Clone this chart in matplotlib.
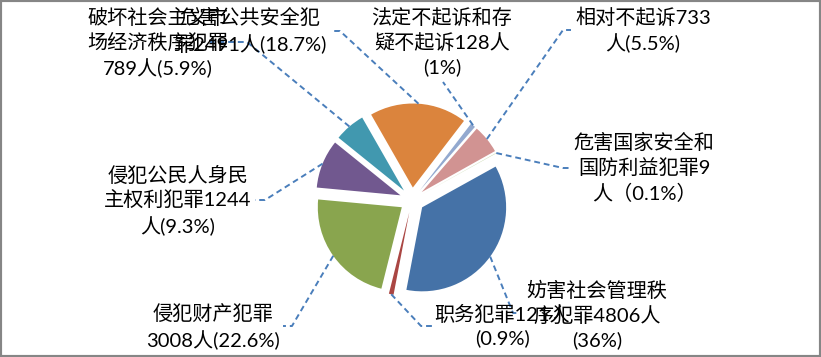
import matplotlib
matplotlib.use('Agg')
import matplotlib.pyplot as plt
import numpy as np
from matplotlib.patches import Rectangle

# case counts, clockwise starting from the right-hand slice
categories = ['妨害社会管理秩序犯罪', '职务犯罪', '侵犯财产犯罪', '侵犯公民人身民主权利犯罪',
              '破坏社会主义市场经济秩序犯罪', '危害公共安全犯罪', '法定不起诉和存疑不起诉',
              '相对不起诉', '危害国家安全和国防利益犯罪']
counts = [4806, 121, 3008, 1244, 789, 2491, 128, 733, 9]

# data labels as they appear on the chart
label_texts = [
    '妨害社会管理秩\n序犯罪4806人\n(36%)',
    '职务犯罪121人\n(0.9%)',
    '侵犯财产犯罪\n3008人(22.6%)',
    '侵犯公民人身民\n主权利犯罪1244\n人(9.3%)',
    '破坏社会主义市\n场经济秩序犯罪\n789人(5.9%)',
    '危害公共安全犯\n罪2491人(18.7%)',
    '法定不起诉和存\n疑不起诉128人\n(1%)',
    '相对不起诉733\n人(5.5%)',
    '危害国家安全和\n国防利益犯罪9\n人（0.1%）',
]

colors = ['#4572A7', '#AA4643', '#89A54E', '#71588F', '#4198AF',
          '#DB843D', '#93A9CF', '#D19392', '#B9CD96']

# layout (pixel coords, y down)
label_pos = [(597, 315), (502, 326), (213, 327), (178, 201), (158, 43),
             (250, 31), (442, 42), (643, 30), (644, 168)]
leader_pts = [
    [(513, 313), (521, 313)],
    [(421, 326), (432, 326)],
    [(292, 326), (283, 326)],
    [(265, 200), (255, 200)],
    [(247, 42), (210, 42)],
    [(340, 31), (332, 31)],
    [(443, 82)],
    [(563, 30), (571, 30)],
    [(563, 168), (570, 168)],
]

W, H = 821, 357
fig = plt.figure(figsize=(W / 100, H / 100), dpi=100)
ax = fig.add_axes([0, 0, 1, 1])

cx, cy, rad = 412, 200, 84
# y axis is flipped, so counterclock in data is clockwise on screen
wedges, _ = ax.pie(counts, colors=colors, explode=[12.5] * len(counts),
                   startangle=-29, counterclock=True, center=(cx, cy),
                   radius=rad, wedgeprops={'linewidth': 0})
ax.set_xlim(0, W)
ax.set_ylim(H, 0)
ax.set_aspect('equal')
ax.axis('off')

fonts = ['Lato', 'Noto Sans CJK SC']
for w, txt, pos, pts in zip(wedges, label_texts, label_pos, leader_pts):
    #leader line from the middle of the outer arc
    mid = np.radians((w.theta1 + w.theta2) / 2.0)
    ex = w.center[0] + w.r * np.cos(mid)
    ey = w.center[1] + w.r * np.sin(mid)
    xs = [ex] + [p[0] for p in pts]
    ys = [ey] + [p[1] for p in pts]
    ax.plot(xs, ys, color='#4A7EBB', lw=1.4, ls=(0, (3, 2)), zorder=2)
    ax.text(pos[0], pos[1], txt, ha='center', va='center', multialignment='center',
            fontsize=14.5, family=fonts, color='black', linespacing=1.4, zorder=3)

# grey chart border
fig.add_artist(Rectangle((0, 0), 1, 1, transform=fig.transFigure, fill=False,
                         edgecolor='#868686', lw=3))

fig.savefig('out.png', dpi=100)
